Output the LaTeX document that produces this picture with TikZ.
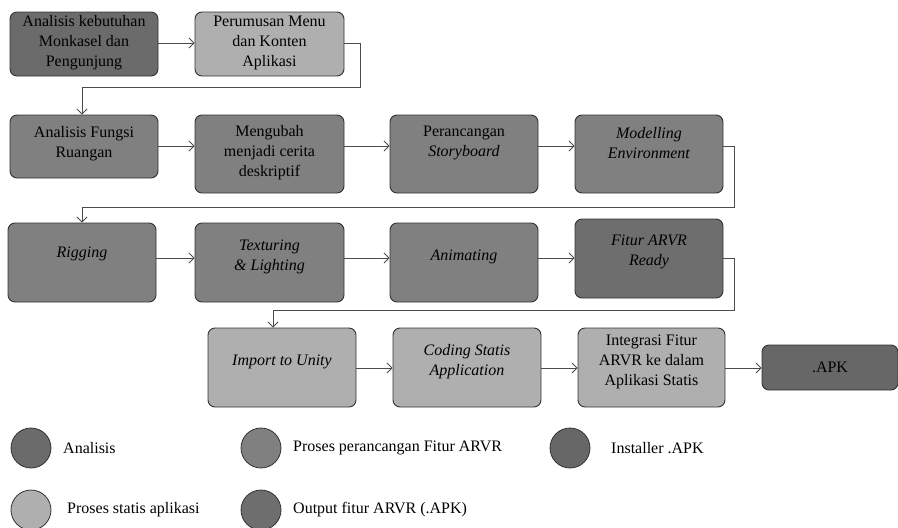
\documentclass[tikz,border=0pt]{standalone}
\usepackage{fontspec}
\setmainfont{Liberation Serif}
\usetikzlibrary{arrows.meta}
\begin{document}
\begin{tikzpicture}[x=1pt,y=-1pt,
  box/.style={draw=black!80, line width=0.9pt, rounded corners=7pt, inner sep=0pt},
  txt/.style={align=center, font=\fontsize{16}{20}\selectfont, inner sep=0pt},
  lg/.style={anchor=west, font=\fontsize{16}{18}\selectfont, inner sep=0pt},
  dot/.style={draw=black!80, line width=0.8pt, circle, minimum size=40pt, inner sep=0pt},
  conn/.style={draw=black!70, line width=0.9pt, -{Straight Barb[length=5pt,width=10pt]}},
]
\definecolor{cAna}{HTML}{6B6B6B}
\definecolor{cPro}{HTML}{808080}
\definecolor{cSta}{HTML}{AFAFAF}
\definecolor{cOut}{HTML}{6E6E6E}
\definecolor{cIns}{HTML}{676767}
\useasboundingbox (0,0) rectangle (898,528);

% row 1
\node[box, fill=cAna, minimum width=148, minimum height=64] (b1) at (84,44) {};
\node[txt] (t1) at (84,43) {Analisis kebutuhan\\Monkasel dan\\Pengunjung};
\node[box, fill=cSta, minimum width=149, minimum height=64] (b2) at (269.5,44) {};
\node[txt] (t2) at (269.5,43) {Perumusan Menu\\dan Konten\\Aplikasi};

% row 2
\node[box, fill=cPro, minimum width=148, minimum height=63] (b3) at (84,146.5) {};
\node[txt] (t3) at (84,144) {Analisis Fungsi\\Ruangan};
\node[box, fill=cPro, minimum width=149, minimum height=78] (b4) at (269.5,154) {};
\node[txt] (t4) at (269.5,153) {Mengubah\\menjadi cerita\\deskriptif};
\node[box, fill=cPro, minimum width=148, minimum height=78] (b5) at (464,154) {};
\node[txt] (t5) at (464,143) {Perancangan\\\textit{Storyboard}};
\node[box, fill=cPro, minimum width=148, minimum height=78] (b6) at (649,154) {};
\node[txt] (t6) at (649,143) {\textit{Modelling}\\\textit{Environment}};

% row 3
\node[box, fill=cPro, minimum width=148, minimum height=79] (b7) at (82,262.5) {};
\node[txt] (t7) at (82,254) {\textit{Rigging}};
\node[box, fill=cPro, minimum width=149, minimum height=79] (b8) at (269.5,262.5) {};
\node[txt] (t8) at (269.5,257) {\textit{Texturing}\\\textit{\& Lighting}};
\node[box, fill=cPro, minimum width=148, minimum height=79] (b9) at (464,262.5) {};
\node[txt] (t9) at (464,257) {\textit{Animating}};
\node[box, fill=cOut, minimum width=148, minimum height=79] (b10) at (649,258.5) {};
\node[txt] (t10) at (649,252) {\textit{Fitur ARVR}\\\textit{Ready}};

% row 4
\node[box, fill=cSta, minimum width=148, minimum height=79] (b11) at (282,367.5) {};
\node[txt] (t11) at (282,362) {\textit{Import to Unity}};
\node[box, fill=cSta, minimum width=148, minimum height=79] (b12) at (467,367.5) {};
\node[txt] (t12) at (467,362) {\textit{Coding Statis}\\\textit{Application}};
\node[box, fill=cSta, minimum width=147, minimum height=79] (b13) at (651.5,367.5) {};
\node[txt] (t13) at (651.5,362) {Integrasi Fitur\\ARVR ke dalam\\Aplikasi Statis};
\node[box, fill=cIns, minimum width=136, minimum height=45] (b14) at (830,367.5) {};
\node[txt] (t14) at (830,367) {.APK};

% connectors
\draw[conn] (b1.east |- 0,43) -- (b2.west |- 0,43);
\draw[conn] (b2.east |- 0,43) -- (360,43) -- (360,87) -- (82,87) -- (b3.north -| 82,0);
\draw[conn] (b3.east |- 0,146) -- (b4.west |- 0,146);
\draw[conn] (b4.east |- 0,146) -- (b5.west |- 0,146);
\draw[conn] (b5.east |- 0,146) -- (b6.west |- 0,146);
\draw[conn] (b6.east |- 0,146) -- (734,146) -- (734,207) -- (82,207) -- (b7.north -| 82,0);
\draw[conn] (b7.east |- 0,258) -- (b8.west |- 0,258);
\draw[conn] (b8.east |- 0,258) -- (b9.west |- 0,258);
\draw[conn] (b9.east |- 0,258) -- (b10.west |- 0,258);
\draw[conn] (b10.east |- 0,258) -- (734,258) -- (734,310) -- (273,310) -- (b11.north -| 273,0);
\draw[conn] (b11.east |- 0,368) -- (b12.west |- 0,368);
\draw[conn] (b12.east |- 0,368) -- (b13.west |- 0,368);
\draw[conn] (b13.east |- 0,368) -- (b14.west |- 0,368);

% legend
\node[dot, fill=cAna] (l1) at (31,448) {};
\node[lg] (lt1) at (63,448) {Analisis};
\node[dot, fill=cPro] (l2) at (261,448) {};
\node[lg] (lt2) at (293,448) {Proses perancangan Fitur ARVR};
\node[dot, fill=cIns] (l3) at (570,448) {};
\node[lg] (lt3) at (611,448) {Installer .APK};
\node[dot, fill=cSta] (l4) at (31,510) {};
\node[lg] (lt4) at (67,510) {Proses statis aplikasi};
\node[dot, fill=cOut] (l5) at (261,510) {};
\node[lg] (lt5) at (293,510) {Output fitur ARVR (.APK)};
\end{tikzpicture}
\end{document}
